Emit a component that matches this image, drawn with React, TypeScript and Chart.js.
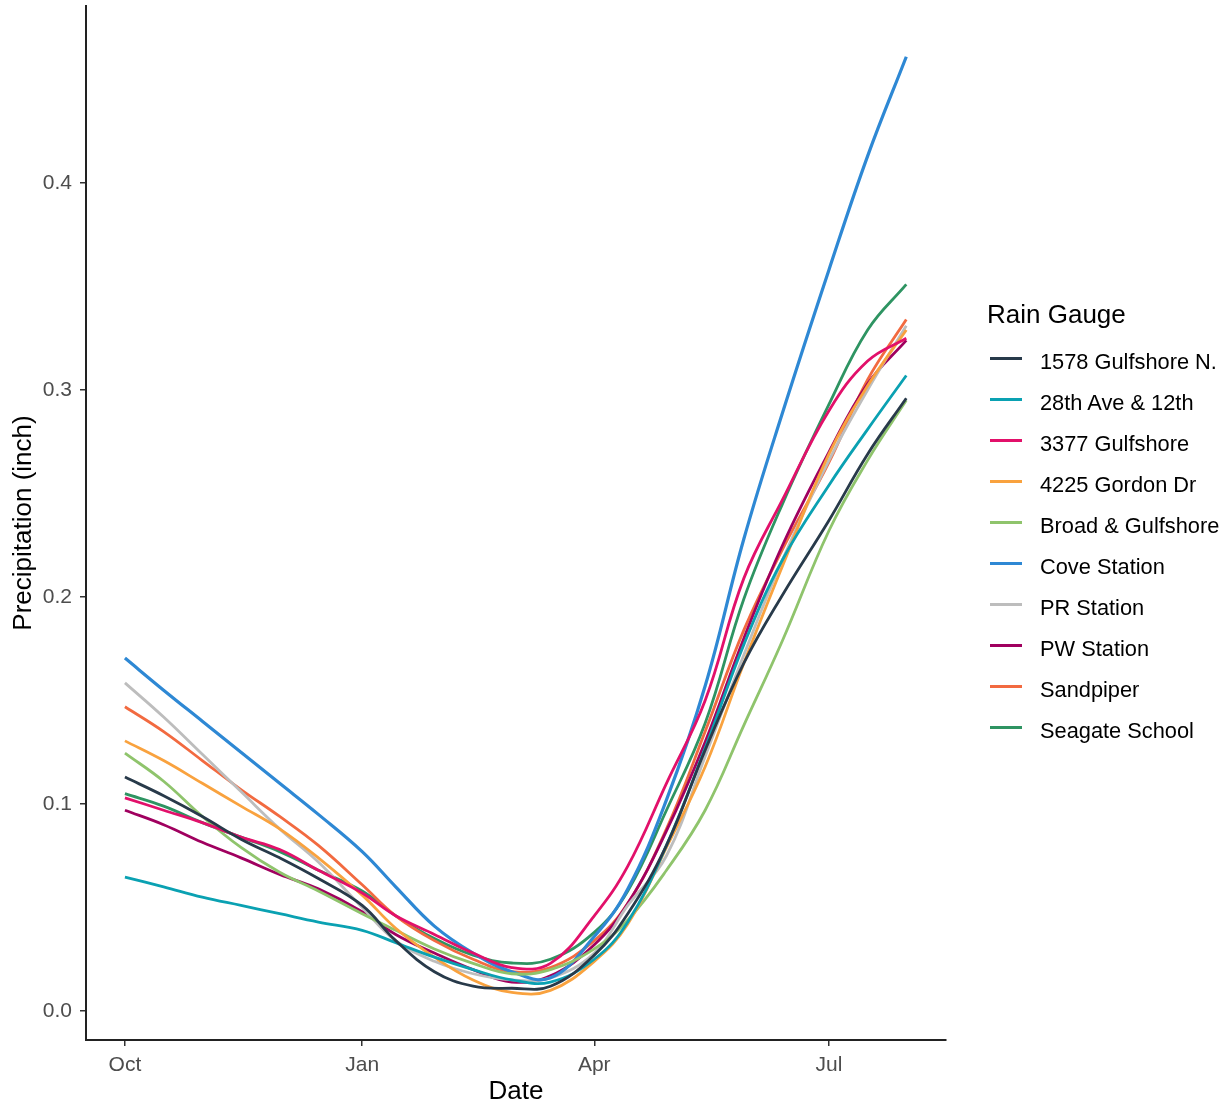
import React, { useEffect, useRef } from 'react';
import { Chart, registerables } from 'chart.js';

Chart.register(...registerables);

// Days since Oct 1
const days = [0, 15, 30, 45, 60, 75, 92, 105, 120, 135, 150, 165, 182, 195, 210, 225, 240, 255, 273, 288, 303];

const tickDays = [0, 92, 182, 273];
const tickLabels = ['Oct', 'Jan', 'Apr', 'Jul'];
const yTicks = [0, 0.1, 0.2, 0.3, 0.4];

const seriesNames = [
  '1578 Gulfshore N.',
  '28th Ave & 12th',
  '3377 Gulfshore',
  '4225 Gordon Dr',
  'Broad & Gulfshore',
  'Cove Station',
  'PR Station',
  'PW Station',
  'Sandpiper',
  'Seagate School',
];

const seriesColors = [
  '#283a4a',
  '#0aa1b2',
  '#e2106a',
  '#f9a23e',
  '#8fc46c',
  '#2e88d4',
  '#bdbdbd',
  '#a0005f',
  '#f26a40',
  '#2e9462',
];

const gulfshore1578 = [0.113, 0.104, 0.094, 0.083, 0.074, 0.064, 0.051, 0.034, 0.019, 0.012, 0.011, 0.012, 0.027, 0.047, 0.080, 0.126, 0.168, 0.201, 0.237, 0.269, 0.296];
const ave28th = [0.0647, 0.060, 0.055, 0.051, 0.047, 0.043, 0.039, 0.033, 0.026, 0.020, 0.015, 0.014, 0.025, 0.043, 0.080, 0.127, 0.177, 0.218, 0.254, 0.281, 0.307];
const gulfshore3377 = [0.103, 0.097, 0.091, 0.084, 0.078, 0.068, 0.057, 0.046, 0.037, 0.028, 0.021, 0.023, 0.046, 0.070, 0.110, 0.150, 0.209, 0.247, 0.290, 0.314, 0.325];
const gordon4225 = [0.1305, 0.121, 0.110, 0.099, 0.088, 0.074, 0.056, 0.040, 0.026, 0.015, 0.009, 0.010, 0.024, 0.042, 0.079, 0.118, 0.168, 0.215, 0.269, 0.302, 0.329];
const broadGulfshore = [0.1246, 0.111, 0.094, 0.079, 0.067, 0.058, 0.047, 0.039, 0.030, 0.023, 0.018, 0.020, 0.030, 0.044, 0.068, 0.097, 0.138, 0.179, 0.232, 0.266, 0.295];
const coveStation = [0.1705, 0.155, 0.140, 0.125, 0.110, 0.095, 0.077, 0.060, 0.041, 0.028, 0.019, 0.016, 0.036, 0.059, 0.102, 0.157, 0.228, 0.289, 0.358, 0.413, 0.461];
const prStation = [0.1585, 0.142, 0.124, 0.106, 0.088, 0.072, 0.050, 0.034, 0.024, 0.018, 0.015, 0.016, 0.028, 0.051, 0.075, 0.123, 0.172, 0.218, 0.266, 0.300, 0.331];
const pwStation = [0.097, 0.090, 0.0815, 0.074, 0.066, 0.059, 0.048, 0.037, 0.028, 0.020, 0.014, 0.017, 0.032, 0.052, 0.087, 0.130, 0.180, 0.225, 0.270, 0.303, 0.324];
const sandpiper = [0.147, 0.135, 0.121, 0.107, 0.094, 0.080, 0.061, 0.046, 0.034, 0.025, 0.019, 0.021, 0.034, 0.052, 0.088, 0.135, 0.184, 0.223, 0.265, 0.305, 0.334];
const seagateSchool = [0.105, 0.099, 0.091, 0.084, 0.077, 0.068, 0.058, 0.046, 0.035, 0.027, 0.0232, 0.025, 0.038, 0.058, 0.097, 0.139, 0.199, 0.245, 0.293, 0.329, 0.351];

const seriesValues = [
  gulfshore1578,
  ave28th,
  gulfshore3377,
  gordon4225,
  broadGulfshore,
  coveStation,
  prStation,
  pwStation,
  sandpiper,
  seagateSchool,
];

const FONT = '"Liberation Sans", Arial, sans-serif';

export default function App() {
  const canvasRef = useRef<HTMLCanvasElement | null>(null);

  useEffect(() => {
    const canvas = canvasRef.current;
    if (!canvas) return;
    Chart.defaults.font.family = FONT;
    const datasets = seriesNames.map((name, i) => ({
      label: name,
      data: days.map((d, j) => ({ x: d, y: seriesValues[i][j] })),
      borderColor: seriesColors[i],
      backgroundColor: seriesColors[i],
      borderWidth: name === 'Cove Station' ? 3.2 : 2.8,
      pointRadius: 0,
      fill: false,
      tension: 0.4,
    }));

    const chart = new Chart(canvas, {
      type: 'line',
      data: { datasets },
      options: {
        animation: false,
        responsive: false,
        devicePixelRatio: 1,
        layout: { padding: { left: 0, top: 6, right: 281, bottom: 0 } },
        plugins: { legend: { display: false }, tooltip: { enabled: false } },
        scales: {
          x: {
            type: 'linear',
            min: -15.1,
            max: 318.4,
            afterBuildTicks: (scale: any) => {
              scale.ticks = tickDays.map((v) => ({ value: v }));
            },
            afterFit: (scale: any) => {
              scale.height = 67;
              scale.paddingLeft = 0;
              scale.paddingRight = 0;
            },
            ticks: {
              autoSkip: false,
              maxRotation: 0,
              padding: 7,
              color: '#4d4d4d',
              font: { size: 21, family: FONT },
              callback: (v: any) => {
                const k = tickDays.indexOf(Number(v));
                return k >= 0 ? tickLabels[k] : '';
              },
            },
            grid: {
              drawOnChartArea: false,
              drawTicks: true,
              tickLength: 6,
              color: '#333333',
              lineWidth: 1.5,
            },
            border: { display: true, color: '#222222', width: 2 },
            title: {
              display: true,
              text: 'Date',
              color: '#000000',
              font: { size: 26, family: FONT },
              padding: { top: 0, bottom: 0 },
            },
          },
          y: {
            type: 'linear',
            min: -0.014,
            max: 0.4855,
            afterBuildTicks: (scale: any) => {
              scale.ticks = yTicks.map((v) => ({ value: v }));
            },
            afterFit: (scale: any) => {
              scale.width = 86;
              scale.paddingTop = 0;
              scale.paddingBottom = 0;
            },
            ticks: {
              padding: 8,
              color: '#4d4d4d',
              font: { size: 21, family: FONT },
              callback: (v: any) => Number(v).toFixed(1),
            },
            grid: {
              drawOnChartArea: false,
              drawTicks: true,
              tickLength: 6,
              color: '#333333',
              lineWidth: 1.5,
            },
            border: { display: true, color: '#222222', width: 2 },
            title: {
              display: true,
              text: 'Precipitation (inch)',
              color: '#000000',
              font: { size: 26, family: FONT },
              padding: { top: 8, bottom: 0 },
            },
          },
        },
      },
    });
    return () => chart.destroy();
  }, []);

  return (
    <div style={{ position: 'absolute', left: 0, top: 0, width: 1227, height: 1107, background: '#ffffff', fontFamily: FONT }}>
      <canvas ref={canvasRef} width={1227} height={1107} style={{ display: 'block', width: 1227, height: 1107 }} />
      <div style={{ position: 'absolute', left: 987, top: 298, height: 32, lineHeight: '32px', fontSize: 26, color: '#000', whiteSpace: 'nowrap' }}>
        Rain Gauge
      </div>
      {seriesNames.map((name, i) => (
        <React.Fragment key={name}>
          <div
            style={{
              position: 'absolute',
              left: 990,
              top: 358 + 41 * i - 1.5,
              width: 32,
              height: 3,
              background: seriesColors[i],
            }}
          />
          <div
            style={{
              position: 'absolute',
              left: 1040,
              top: 362 + 41 * i - 15,
              height: 30,
              lineHeight: '30px',
              fontSize: 21.8,
              color: '#000',
              whiteSpace: 'nowrap',
            }}
          >
            {name}
          </div>
        </React.Fragment>
      ))}
    </div>
  );
}
